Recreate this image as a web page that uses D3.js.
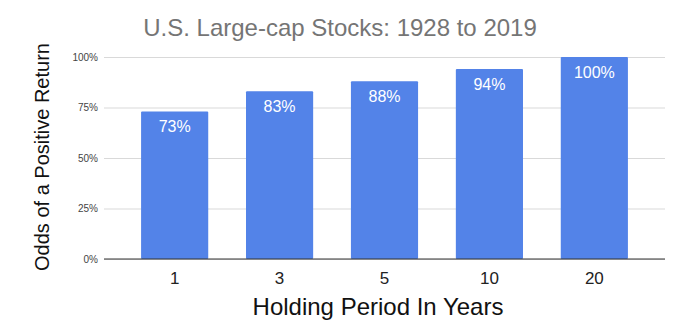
<!DOCTYPE html>
<html>
<head>
<meta charset="utf-8">
<script src="https://cdn.jsdelivr.net/npm/d3@7"></script>
<style>
  html, body { margin: 0; padding: 0; background: #fff; }
  svg { display: block; font-family: Arial, "Liberation Sans", sans-serif; }
</style>
</head>
<body>
<svg id="chart" width="680" height="330"></svg>
<script>
// Holding periods (years) and share of periods with a positive return
const periods = ["1", "3", "5", "10", "20"];
const odds = [0.73, 0.83, 0.88, 0.94, 1.00];
const tickValues = [0, 0.25, 0.5, 0.75, 1];

const svg = d3.select("#chart");

const gridLeft = 104, gridRight = 665;
const x = d3.scaleBand()
  .domain(periods)
  .range([122.2, 646.8])
  .paddingInner(0.36)
  .paddingOuter(0.18);

const y = d3.scaleLinear().domain([0, 1]).range([259, 57]);

// Horizontal gridlines
const yAxis = d3.axisLeft(y)
  .tickValues(tickValues)
  .tickFormat(d3.format(".0%"))
  .tickSize(-(gridRight - gridLeft))
  .tickPadding(6);

const gy = svg.append("g")
  .attr("transform", `translate(${gridLeft},0)`)
  .call(yAxis);
gy.select(".domain").remove();
gy.selectAll(".tick line").attr("stroke", "#d9d9d9").attr("stroke-width", 1);
gy.selectAll(".tick text")
  .attr("fill", "#444")
  .attr("font-size", 10)
  .attr("font-family", "Arial, 'Liberation Sans', sans-serif");

// Bars
svg.append("g").selectAll("rect")
  .data(periods)
  .join("rect")
  .attr("x", d => x(d))
  .attr("width", x.bandwidth())
  .attr("y", (d, i) => y(odds[i]))
  .attr("height", (d, i) => y(0) - y(odds[i]))
  .attr("rx", 1)
  .attr("fill", "#5383e8");

// Baseline
svg.append("line")
  .attr("x1", gridLeft).attr("x2", gridRight)
  .attr("y1", y(0)).attr("y2", y(0))
  .attr("stroke", "#333").attr("stroke-width", 1);

// Value labels inside the bars
svg.append("g").selectAll("text")
  .data(periods)
  .join("text")
  .attr("x", d => x(d) + x.bandwidth() / 2)
  .attr("y", (d, i) => y(odds[i]) + 20.5)
  .attr("text-anchor", "middle")
  .attr("fill", "#fff")
  .attr("font-size", 16)
  .text((d, i) => d3.format(".0%")(odds[i]));

// Category labels
const xAxis = d3.axisBottom(x).tickSize(0).tickPadding(0);
const gx = svg.append("g")
  .attr("transform", `translate(0,${y(0)})`)
  .call(xAxis);
gx.select(".domain").remove();
gx.selectAll(".tick text")
  .attr("dy", null)
  .attr("y", 24.7)
  .attr("fill", "#222")
  .attr("font-size", 17)
  .attr("font-family", "Arial, 'Liberation Sans', sans-serif");

// Titles
svg.append("text")
  .attr("x", 340).attr("y", 36)
  .attr("text-anchor", "middle")
  .attr("fill", "#757575")
  .attr("font-size", 24)
  .text("U.S. Large-cap Stocks: 1928 to 2019");

svg.append("text")
  .attr("x", 378).attr("y", 315)
  .attr("text-anchor", "middle")
  .attr("fill", "#111")
  .attr("font-size", 24)
  .text("Holding Period In Years");

svg.append("text")
  .attr("transform", "translate(49,157) rotate(-90)")
  .attr("text-anchor", "middle")
  .attr("fill", "#111")
  .attr("font-size", 20)
  .text("Odds of a Positive Return");
</script>
</body>
</html>
